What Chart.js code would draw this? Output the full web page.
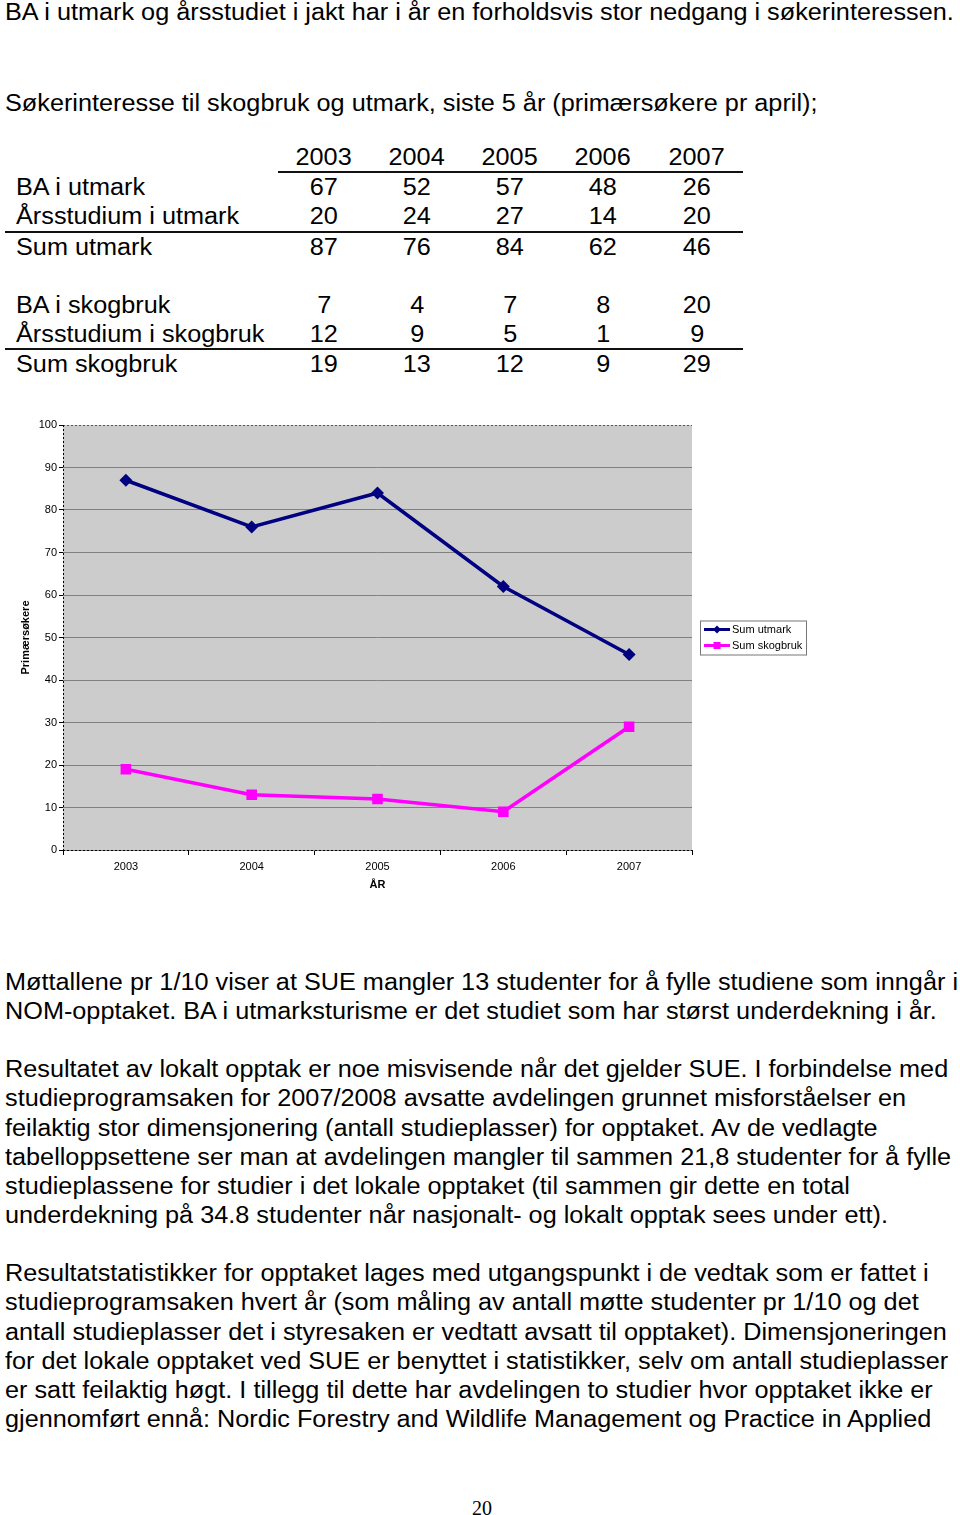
<!DOCTYPE html>
<html>
<head>
<meta charset="utf-8">
<script src="https://cdn.jsdelivr.net/npm/chart.js@4/dist/chart.umd.min.js"></script>
<style>
  body { margin: 0; width: 960px; height: 1515px; position: relative; background: #fff; color: #000; font-family: "Liberation Sans", Arial, sans-serif; overflow: hidden }
  .l { position: absolute; left: 5px; white-space: nowrap; font-size: 23px; line-height: 29px; transform-origin: 0 50% }
  .c { position: absolute; white-space: nowrap; font-size: 23px; line-height: 29px; transform-origin: 50% 50% }
  .rule { position: absolute; height: 2px; background: #111 }
  #chartWrap { position: absolute; left: 0; top: 410px; width: 820px; height: 500px }
  #pageNo { position: absolute; left: 0; width: 964px; top: 1497px; text-align: center; font-family: "Liberation Serif", "Times New Roman", serif; font-size: 20px }
</style>
</head>
<body>
<div id="doc"></div>
<div id="chartWrap"><canvas id="chart" width="820" height="500"></canvas></div>
<div id="pageNo">20</div>

<script>
const years = ['2003', '2004', '2005', '2006', '2007']
const baUtmark = [67, 52, 57, 48, 26]
const arsUtmark = [20, 24, 27, 14, 20]
const sumUtmark = [87, 76, 84, 62, 46]
const baSkogbruk = [7, 4, 7, 8, 20]
const arsSkogbruk = [12, 9, 5, 1, 9]
const sumSkogbruk = [19, 13, 12, 9, 29]
const yTicks = [0, 10, 20, 30, 40, 50, 60, 70, 80, 90, 100]

const introLines = [
  [12, 'BA i utmark og årsstudiet i jakt har i år en forholdsvis stor nedgang i søkerinteressen.'],
  [103, 'Søkerinteresse til skogbruk og utmark, siste 5 år (primærsøkere pr april);'],
]
const bodyLines = [
  [982, 'Møttallene pr 1/10 viser at SUE mangler 13 studenter for å fylle studiene som inngår i'],
  [1011, 'NOM-opptaket. BA i utmarksturisme er det studiet som har størst underdekning i år.'],
  [1069, 'Resultatet av lokalt opptak er noe misvisende når det gjelder SUE. I forbindelse med'],
  [1098, 'studieprogramsaken for 2007/2008 avsatte avdelingen grunnet misforståelser en'],
  [1128, 'feilaktig stor dimensjonering (antall studieplasser) for opptaket. Av de vedlagte'],
  [1157, 'tabelloppsettene ser man at avdelingen mangler til sammen 21,8 studenter for å fylle'],
  [1186, 'studieplassene for studier i det lokale opptaket (til sammen gir dette en total'],
  [1215, 'underdekning på 34.8 studenter når nasjonalt- og lokalt opptak sees under ett).'],
  [1273, 'Resultatstatistikker for opptaket lages med utgangspunkt i de vedtak som er fattet i'],
  [1302, 'studieprogramsaken hvert år (som måling av antall møtte studenter pr 1/10 og det'],
  [1332, 'antall studieplasser det i styresaken er vedtatt avsatt til opptaket). Dimensjoneringen'],
  [1361, 'for det lokale opptaket ved SUE er benyttet i statistikker, selv om antall studieplasser'],
  [1390, 'er satt feilaktig høgt. I tillegg til dette har avdelingen to studier hvor opptaket ikke er'],
  [1419, 'gjennomført ennå: Nordic Forestry and Wildlife Management og Practice in Applied'],
]
const tableRows = [
  [187, 'BA i utmark', baUtmark],
  [216, 'Årsstudium i utmark', arsUtmark],
  [247, 'Sum utmark', sumUtmark],
  [305, 'BA i skogbruk', baSkogbruk],
  [334, 'Årsstudium i skogbruk', arsSkogbruk],
  [364, 'Sum skogbruk', sumSkogbruk],
]

const doc = document.getElementById('doc')
const addText = (cls, x, y, text) => {
  const el = document.createElement('div')
  el.className = cls
  el.textContent = text
  el.style.top = (y - 14.5) + 'px'
  if (x !== null) el.style.left = x + 'px'
  doc.appendChild(el)
  return el
}
const addRule = (x1, x2, y) => {
  const el = document.createElement('div')
  el.className = 'rule'
  el.style.left = x1 + 'px'
  el.style.width = (x2 - x1) + 'px'
  el.style.top = (y - 1) + 'px'
  doc.appendChild(el)
}

const texts = []
introLines.concat(bodyLines).forEach(([y, t]) => texts.push(addText('l', null, y, t)))

// table
const colX = [324, 417, 510, 603, 697]
const centered = []
years.forEach((yr, i) => centered.push([addText('c', colX[i], 157, yr), colX[i]]))
tableRows.forEach(([y, label, vals]) => {
  texts.push(addText('l', 16, y, label))
  vals.forEach((v, i) => centered.push([addText('c', colX[i], y, String(v)), colX[i]]))
})
addRule(278, 743, 172)
addRule(5, 743, 232)
addRule(5, 743, 349)

// the scan's font is narrower than Arial: squeeze to match the reference line width
const probe = texts[2]
const sx = 953 / probe.getBoundingClientRect().width
texts.forEach((el) => (el.style.transform = `scaleX(${sx})`))
centered.forEach(([el, cx]) => {
  const w = el.getBoundingClientRect().width
  el.style.left = (cx - w / 2) + 'px'
  el.style.transform = `scaleX(${sx})`
})

// chart
const dotted = (ctx, x1, y1, x2, y2) => {
  ctx.beginPath()
  ctx.moveTo(x1, y1)
  ctx.lineTo(x2, y2)
  ctx.stroke()
}

const plotBg = {
  id: 'plotBg',
  beforeDraw(chart) {
    const { ctx, chartArea: a } = chart
    ctx.save()
    ctx.fillStyle = '#cccccc'
    ctx.fillRect(a.left, a.top, a.right - a.left, a.bottom - a.top)
    ctx.restore()
  },
  beforeDatasetsDraw(chart) {
    const { ctx, chartArea: a } = chart
    ctx.save()
    ctx.lineWidth = 1
    ctx.setLineDash([2, 2])
    ctx.strokeStyle = '#555'
    dotted(ctx, a.left, a.top + 0.5, a.right, a.top + 0.5)
    ctx.strokeStyle = '#000'
    dotted(ctx, a.left + 0.5, a.top, a.left + 0.5, a.bottom)
    dotted(ctx, a.left, a.bottom + 0.5, a.right, a.bottom + 0.5)
    ctx.restore()
  },
}

const boxLegend = {
  id: 'boxLegend',
  afterDraw(chart) {
    const { ctx, chartArea: a } = chart
    const x = a.right + 8
    const y = (a.top + a.bottom) / 2 - 17
    ctx.save()
    ctx.fillStyle = '#fff'
    ctx.fillRect(x, y, 106, 34)
    ctx.strokeStyle = '#777'
    ctx.lineWidth = 1
    ctx.strokeRect(x + 0.5, y + 0.5, 106, 34)
    chart.data.datasets.forEach((ds, i) => {
      const ly = y + 9 + i * 16
      ctx.strokeStyle = ds.borderColor
      ctx.lineWidth = 3
      ctx.beginPath()
      ctx.moveTo(x + 4, ly)
      ctx.lineTo(x + 30, ly)
      ctx.stroke()
      ctx.fillStyle = ds.backgroundColor
      ctx.beginPath()
      if (ds.pointStyle === 'rectRot') {
        ctx.moveTo(x + 17, ly - 4)
        ctx.lineTo(x + 21, ly)
        ctx.lineTo(x + 17, ly + 4)
        ctx.lineTo(x + 13, ly)
        ctx.closePath()
        ctx.fill()
      } else {
        ctx.fillRect(x + 13.5, ly - 3.5, 7, 7)
      }
      ctx.fillStyle = '#000'
      ctx.font = '11px "Liberation Sans", Arial, sans-serif'
      ctx.textBaseline = 'middle'
      ctx.fillText(ds.label, x + 32, ly + 0.5)
    })
    ctx.restore()
  },
}

const font11 = { family: '"Liberation Sans", Arial, sans-serif', size: 11 }

new Chart(document.getElementById('chart'), {
  type: 'line',
  data: {
    labels: years,
    datasets: [
      {
        label: 'Sum utmark',
        data: sumUtmark,
        borderColor: '#000080',
        backgroundColor: '#000080',
        borderWidth: 3.5,
        pointStyle: 'rectRot',
        pointRadius: 6.5,
        pointBorderWidth: 0,
        tension: 0,
      },
      {
        label: 'Sum skogbruk',
        data: sumSkogbruk,
        borderColor: '#ff00ff',
        backgroundColor: '#ff00ff',
        borderWidth: 3.5,
        pointStyle: 'rect',
        pointRadius: 7.5,
        pointBorderWidth: 0,
        tension: 0,
      },
    ],
  },
  options: {
    responsive: false,
    animation: false,
    layout: { padding: { top: 15, right: 128, bottom: 10, left: 0 } },
    plugins: {
      legend: { display: false },
      tooltip: { enabled: false },
    },
    scales: {
      x: {
        offset: true,
        grid: { offset: true, drawOnChartArea: false, drawTicks: true, tickLength: 5, tickColor: '#000' },
        border: { display: false },
        ticks: { color: '#000', padding: 5, font: font11 },
        title: { display: true, text: 'ÅR', color: '#000', padding: { top: 0, bottom: 8 }, font: { ...font11, weight: 'bold' } },
        afterFit: (s) => { s.height = 50 },
      },
      y: {
        min: yTicks[0],
        max: yTicks[yTicks.length - 1],
        afterBuildTicks: (s) => { s.ticks = yTicks.map((v) => ({ value: v })) },
        grid: {
          color: (c) => (c.tick && c.tick.value === 100 ? 'rgba(0,0,0,0)' : '#808080'),
          tickColor: '#000',
          tickLength: 4,
        },
        border: { display: false },
        ticks: { color: '#000', padding: 2, font: font11 },
        title: { display: true, text: 'Primærsøkere', color: '#000', padding: { top: 19, bottom: 0 }, font: { ...font11, weight: 'bold' } },
        afterFit: (s) => { s.width = 63 },
      },
    },
  },
  plugins: [plotBg, boxLegend],
})
</script>
</body>
</html>
